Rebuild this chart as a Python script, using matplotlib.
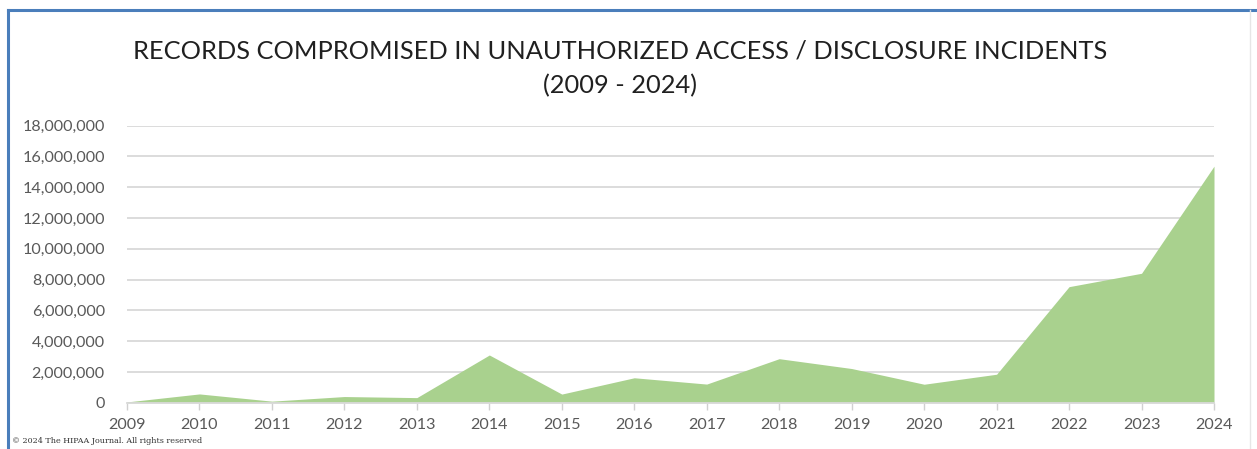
import matplotlib
matplotlib.use("Agg")
import matplotlib.pyplot as plt
from matplotlib.ticker import FuncFormatter
from matplotlib.lines import Line2D

# records compromised per year
years = [2009, 2010, 2011, 2012, 2013, 2014, 2015, 2016,
         2017, 2018, 2019, 2020, 2021, 2022, 2023, 2024]
records = [50000, 570000, 100000, 400000, 330000, 3100000, 560000, 1620000,
           1210000, 2860000, 2220000, 1200000, 1850000, 7540000, 8410000, 15370000]
y_ticks = list(range(0, 18000001, 2000000))

title = "RECORDS COMPROMISED IN UNAUTHORIZED ACCESS / DISCLOSURE INCIDENTS\n(2009 - 2024)"
credit = "\u00a9 2024 The HIPAA Journal. All rights reserved"

W, H = 1257, 449
fig = plt.figure(figsize=(W / 100, H / 100), dpi=100)
fig.patch.set_facecolor("white")

ax = fig.add_axes([127 / W, (H - 402.7) / H, (1214 - 127) / W, (402.7 - 125.7) / H])
ax.fill_between(years, records, 0, color="#a9d18e", lw=0, zorder=2)
ax.set_xlim(years[0], years[-1])
ax.set_ylim(0, 18000000)
ax.set_xticks(years)
ax.set_yticks(y_ticks)
ax.yaxis.set_major_formatter(FuncFormatter(lambda v, p: f"{int(v):,}"))
ax.grid(axis="y", color="#d9d9d9", lw=1.3, zorder=0)
for s in ["top", "right", "left"]:
    ax.spines[s].set_visible(False)
ax.spines["bottom"].set_color("#d9d9d9")
ax.spines["bottom"].set_linewidth(1.3)
ax.tick_params(axis="x", colors="#d0d0d0", length=5, width=1, pad=6)
ax.tick_params(axis="y", length=0, pad=16)
for lab in ax.get_xticklabels() + ax.get_yticklabels():
    lab.set_color("#595959")
    lab.set_fontsize(11.6)
    lab.set_family("Lato")

fig.text(620 / W, 1 - 68 / H, title, ha="center", va="center",
         fontsize=18.3, family="Lato", color="#202020", linespacing=1.6)
fig.text(12 / W, 1 - 441 / H, credit, ha="left", va="center",
         fontsize=5.8, family="DejaVu Serif", color="#333333")

# frame around the chart
fig.add_artist(Line2D([8 / W, 1], [1 - 10 / H, 1 - 10 / H], color="#4a7ebb", lw=2.2))
fig.add_artist(Line2D([8 / W, 8 / W], [0, 1 - 10 / H], color="#4a7ebb", lw=2.2))
fig.add_artist(Line2D([1250 / W, 1250 / W], [0, 1 - 10 / H], color="#e6e6e6", lw=1))

fig.savefig("out.png", dpi=100)
